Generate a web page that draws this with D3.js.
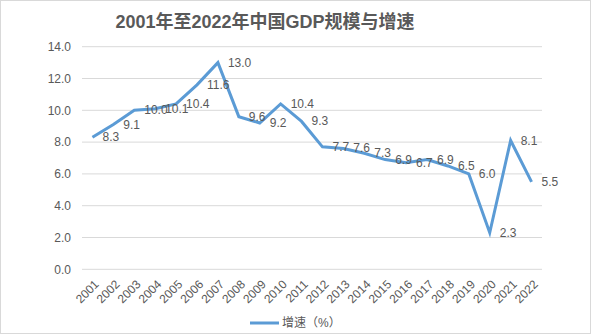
<!DOCTYPE html>
<html><head><meta charset="utf-8">
<script src="https://cdn.jsdelivr.net/npm/d3@7"></script>
<style>body{margin:0;background:#fff}svg{display:block}</style>
</head><body>
<script>
const years = ["2001","2002","2003","2004","2005","2006","2007","2008","2009","2010","2011","2012","2013","2014","2015","2016","2017","2018","2019","2020","2021","2022"];
const growth = [8.3,9.1,10.0,10.1,10.4,11.6,13.0,9.6,9.2,10.4,9.3,7.7,7.6,7.3,6.9,6.7,6.9,6.5,6.0,2.3,8.1,5.5];
const yTicks = [0,2,4,6,8,10,12,14];
const title = "2001年至2022年中国GDP规模与增速";
const seriesName = "增速（%）";

const W = 591, H = 334;
const svg = d3.select("body").append("svg").attr("width", W).attr("height", H);
svg.append("rect").attr("x",0.5).attr("y",0.5).attr("width",W-1).attr("height",H-1)
  .attr("fill","#fff").attr("stroke","#d9d9d9");

const font = "'Liberation Sans','Noto Sans CJK SC',sans-serif";
svg.append("text").attr("x", 265).attr("y", 28).attr("text-anchor","middle")
  .attr("font-family", font).attr("font-weight","bold").attr("font-size",18)
  .attr("fill","#595959").text(title);

const x = d3.scaleBand().domain(years).range([82, 542]);
const y = d3.scaleLinear().domain([0,14]).range([269.3, 46.7]);

const grid = svg.append("g");
grid.selectAll("line").data(yTicks).join("line")
  .attr("x1", 82).attr("x2", 542).attr("y1", d=>y(d)).attr("y2", d=>y(d))
  .attr("stroke","#d9d9d9").attr("stroke-width",1);

const yAxis = svg.append("g").attr("transform","translate(74,0)")
  .call(d3.axisLeft(y).tickValues(yTicks).tickFormat(d3.format(".1f")).tickSize(0));
yAxis.select(".domain").remove();
yAxis.selectAll("text").attr("font-family",font).attr("font-size",12).attr("fill","#595959");

const xAxis = svg.append("g").attr("transform","translate(0,271)")
  .call(d3.axisBottom(x).tickSize(0));
xAxis.select(".domain").remove();
xAxis.selectAll("text").attr("font-family",font).attr("font-size",12).attr("fill","#595959")
  .attr("text-anchor","end").attr("dy","0").attr("transform","translate(5,12) rotate(-45)");

const cx = d => x(d) + x.bandwidth()/2;
const line = d3.line().x((d,i)=>cx(years[i])).y(d=>y(d));
svg.append("path").datum(growth).attr("d", line).attr("fill","none")
  .attr("stroke","#5b9bd5").attr("stroke-width",3).attr("stroke-linejoin","miter");

svg.append("g").selectAll("text").data(growth).join("text")
  .attr("x",(d,i)=>cx(years[i])+10).attr("y",d=>y(d)+4)
  .attr("font-family",font).attr("font-size",12).attr("fill","#595959")
  .text(d=>d.toFixed(1));

svg.append("line").attr("x1",250).attr("x2",279).attr("y1",323).attr("y2",323)
  .attr("stroke","#5b9bd5").attr("stroke-width",3);
svg.append("text").attr("x",282).attr("y",327).attr("font-family",font).attr("font-size",12)
  .attr("fill","#595959").text(seriesName);
</script>
</body></html>
